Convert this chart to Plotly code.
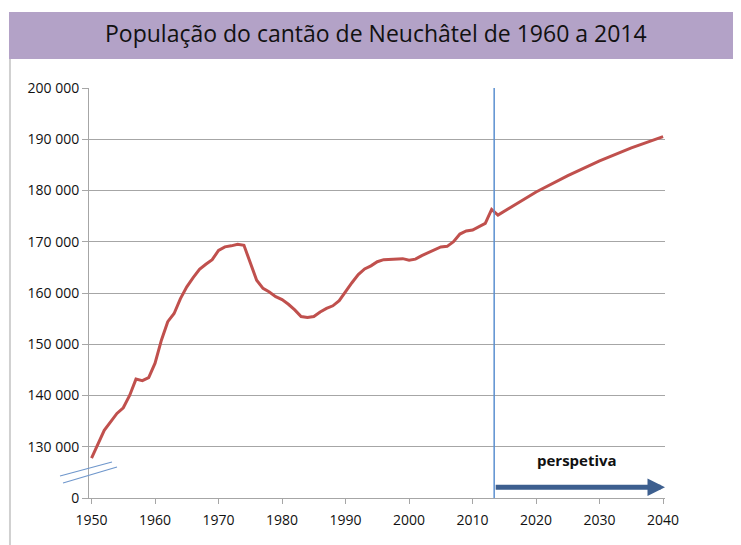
import plotly.graph_objects as go

# ---- data ----
years = [1950, 1952, 1954, 1955, 1956, 1957, 1958, 1959, 1960, 1961, 1962, 1963, 1964,
         1965, 1966, 1967, 1968, 1969, 1970, 1971, 1972, 1973, 1974, 1975, 1976, 1977,
         1978, 1979, 1980, 1981, 1982, 1983, 1984, 1985, 1986, 1987, 1988, 1989, 1990,
         1991, 1992, 1993, 1994, 1995, 1996, 1997, 1998, 1999, 2000, 2001, 2002, 2003,
         2004, 2005, 2006, 2007, 2008, 2009, 2010, 2011, 2012, 2013, 2014,
         2020, 2025, 2030, 2035, 2040]
population = [127800, 133200, 136500, 137600, 140000, 143200, 142900, 143500, 146300,
              150800, 154400, 156000, 158900, 161200, 163000, 164600, 165600, 166500,
              168300, 169000, 169200, 169500, 169300, 165800, 162500, 160900, 160200,
              159300, 158700, 157800, 156700, 155400, 155200, 155400, 156300, 157000,
              157500, 158500, 160300, 162000, 163600, 164700, 165300, 166100, 166500,
              166600, 166600, 166700, 166400, 166600, 167300, 167900, 168400, 169000,
              169100, 170000, 171500, 172100, 172300, 173000, 173600, 176300, 175200,
              179700, 182900, 185800, 188300, 190500]

y_tick_vals = [120000, 130000, 140000, 150000, 160000, 170000, 180000, 190000, 200000]
y_tick_text = ["0", "130 000", "140 000", "150 000", "160 000", "170 000",
               "180 000", "190 000", "200 000"]
x_tick_vals = [1950, 1960, 1970, 1980, 1990, 2000, 2010, 2020, 2030, 2040]

title_text = "População do cantão de Neuchâtel de 1960 a 2014"
forecast_label = "perspetiva"
forecast_start = 2013.4
forecast_end = 2040.3
arrow_level = 122100
label_pos = (2026.5, 127400)

FONT = "Open Sans"
GRID = "#a6a6a6"
TXT = "#111111"

fig = go.Figure()
fig.add_trace(go.Scatter(x=years, y=population, mode="lines",
                         line=dict(color="#c0504d", width=3), hoverinfo="skip"))

fig.update_layout(
    width=733, height=537,
    margin=dict(l=81, r=76, t=80, b=47),
    paper_bgcolor="white", plot_bgcolor="white",
    showlegend=False,
    font=dict(family=FONT, color=TXT, size=14),
)
fig.update_xaxes(range=[1949.6, 2040.3], tickmode="array", tickvals=x_tick_vals,
                 showgrid=False, showline=True, linecolor=GRID, linewidth=1,
                 ticks="outside", ticklen=5, tickcolor=GRID, zeroline=False,
                 ticklabelstandoff=4,
                 tickfont=dict(size=14, family=FONT, color=TXT))
fig.update_yaxes(range=[120000, 200000], tickmode="array", tickvals=y_tick_vals,
                 ticktext=y_tick_text, showgrid=True, gridcolor=GRID, gridwidth=1,
                 showline=True, linecolor=GRID, linewidth=1, ticks="outside",
                 ticklen=6, tickcolor=GRID, zeroline=False,
                 tickfont=dict(size=14, family=FONT, color=TXT))

shapes = []
# title band
shapes.append(dict(type="rect", xref="paper", yref="paper", x0=-0.1389, x1=1.2,
                   y0=1.0707, y1=1.1854, fillcolor="#b3a2c7", line=dict(width=0),
                   layer="below"))
# left frame line
shapes.append(dict(type="line", xref="paper", yref="paper", x0=-0.1372, x1=-0.1372,
                   y0=-0.12, y1=1.0707, line=dict(color="#d0d0d0", width=2)))
# axis break marks
shapes.append(dict(type="line", xref="paper", yref="paper", x0=-0.0503, x1=0.0399,
                   y0=0.0537, y1=0.0878, line=dict(color="#6f97cc", width=1.2)))
shapes.append(dict(type="line", xref="paper", yref="paper", x0=-0.0451, x1=0.0486,
                   y0=0.0366, y1=0.0756, line=dict(color="#6f97cc", width=1.2)))
# forecast separator
shapes.append(dict(type="line", xref="x", yref="y", x0=forecast_start, x1=forecast_start,
                   y0=120000, y1=200000, line=dict(color="#5b8fd0", width=1.5)))
fig.update_layout(shapes=shapes)

fig.add_annotation(xref="paper", yref="paper", x=0.498, y=1.134, text=title_text,
                   showarrow=False, font=dict(size=23, family=FONT, color=TXT),
                   xanchor="center", yanchor="middle")
fig.add_annotation(x=forecast_end, y=arrow_level, ax=forecast_start, ay=arrow_level,
                   xref="x", yref="y", axref="x", ayref="y", text="", showarrow=True,
                   arrowhead=2, arrowsize=0.7, arrowwidth=5, arrowcolor="#3d5f8f")
fig.add_annotation(x=label_pos[0], y=label_pos[1], xref="x", yref="y",
                   text="<b>" + forecast_label + "</b>", showarrow=False,
                   font=dict(size=15, family=FONT, color=TXT))

fig.write_html("out.html")
